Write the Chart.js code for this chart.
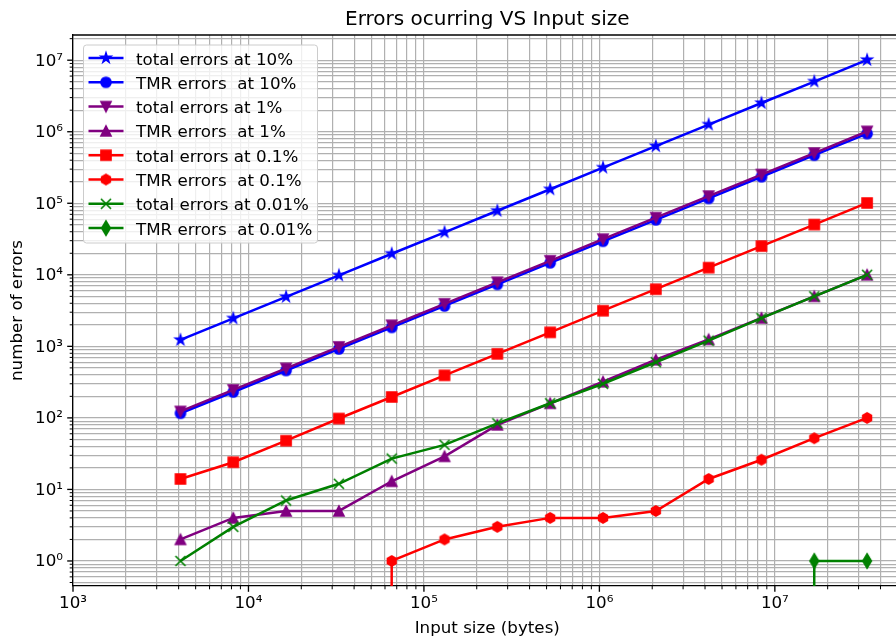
<!DOCTYPE html>
<html>
<head>
<meta charset="utf-8">
<title>Errors ocurring VS Input size</title>
<script src="https://cdn.jsdelivr.net/npm/chart.js@4.4.0/dist/chart.umd.min.js"></script>
<style>
  html, body { margin: 0; padding: 0; overflow: hidden; background: #fff; }
  canvas { display: block; }
</style>
</head>
<body>
<canvas id="errorsChart" width="910" height="639"></canvas>
<script>
// Input sizes in bytes, 4 KiB up to 32 MiB
const inputSizes = [4096, 8192, 16384, 32768, 65536, 131072, 262144, 524288, 1048576, 2097152, 4194304, 8388608, 16777216, 33554432];

// Error counts per input size
const totalErrors10 = [1230, 2460, 4920, 9830, 19700, 39300, 78600, 157000, 315000, 629000, 1260000, 2520000, 5030000, 10100000];
const tmrErrors10 = [116, 230, 460, 920, 1840, 3670, 7340, 14700, 29400, 58700, 117000, 235000, 470000, 940000];
const totalErrors1 = [123, 246, 492, 983, 1970, 3930, 7860, 15700, 31500, 62900, 126000, 252000, 503000, 1010000];
const tmrErrors1 = [2, 4, 5, 5, 13, 29, 80, 160, 320, 650, 1250, 2500, 5000, 10000];
const totalErrors01 = [14, 24, 48, 98, 196, 393, 786, 1570, 3150, 6290, 12600, 25200, 50300, 101000];
const tmrErrors01 = [0, 0, 0, 0, 1, 2, 3, 4, 4, 5, 14, 26, 52, 100];
const totalErrors001 = [1, 3, 7, 12, 27, 42, 84, 160, 300, 600, 1200, 2480, 5000, 10000];
const tmrErrors001 = [0, 0, 0, 0, 0, 0, 0, 0, 0, 0, 0, 0, 1, 1];

const seriesValues = [totalErrors10, tmrErrors10, totalErrors1, tmrErrors1, totalErrors01, tmrErrors01, totalErrors001, tmrErrors001];
const seriesLabels = ['total errors at 10%', 'TMR errors  at 10%', 'total errors at 1%', 'TMR errors  at 1%',
  'total errors at 0.1%', 'TMR errors  at 0.1%', 'total errors at 0.01%', 'TMR errors  at 0.01%'];
const seriesColors = ['#0000ff', '#0000ff', '#800080', '#800080', '#ff0000', '#ff0000', '#008000', '#008000'];
const seriesMarkers = ['star', 'circle', 'triangleDown', 'triangleUp', 'square', 'hexagon', 'x', 'thinDiamond'];

// Axis decades and their labels
const xDecades = [1e3, 1e4, 1e5, 1e6, 1e7];
const xTickLabels = ['10³', '10⁴', '10⁵', '10⁶', '10⁷'];
const yDecades = [1, 1e1, 1e2, 1e3, 1e4, 1e5, 1e6, 1e7];
const yTickLabels = ['10⁰', '10¹', '10²', '10³', '10⁴', '10⁵', '10⁶', '10⁷'];

const FONT = 'DejaVu Sans';
const FONT_SIZE = 16.7;

// Small canvases used as point styles (filled markers with a thin edge)
function markerCanvas(shape, color) {
    const c = document.createElement('canvas');
    c.width = 28;
    c.height = 28;
    const g = c.getContext('2d');
    g.translate(14, 14);
    const s = 5;
    g.fillStyle = color;
    g.strokeStyle = color;
    g.lineWidth = 1.67;
    g.lineJoin = 'miter';
    g.beginPath();
    const poly = pts => pts.forEach(([px, py], i) => (i ? g.lineTo(px, py) : g.moveTo(px, py)));
    switch (shape) {
        case 'circle':
            g.arc(0, 0, s, 0, Math.PI * 2);
            break;
        case 'square':
            g.rect(-s, -s, 2 * s, 2 * s);
            break;
        case 'triangleUp':
            poly([[0, -s], [s, s], [-s, s]]);
            break;
        case 'triangleDown':
            poly([[0, s], [s, -s], [-s, -s]]);
            break;
        case 'star': {
            const pts = [];
            for (let i = 0; i < 10; i++) {
                const r = i % 2 ? s * 0.381966 : s;
                const a = -Math.PI / 2 + i * Math.PI / 5;
                pts.push([r * Math.cos(a), r * Math.sin(a)]);
            }
            poly(pts);
            break;
        }
        case 'hexagon': {
            const pts = [];
            for (let i = 0; i < 6; i++) {
                const a = -Math.PI / 2 + i * Math.PI / 3;
                pts.push([s * Math.cos(a), s * Math.sin(a)]);
            }
            poly(pts);
            break;
        }
        case 'thinDiamond':
            poly([[0, -7.07], [4.24, 0], [0, 7.07], [-4.24, 0]]);
            break;
        case 'x':
            g.moveTo(-s, -s); g.lineTo(s, s);
            g.moveTo(-s, s); g.lineTo(s, -s);
            break;
    }
    if (shape !== 'x') {
        g.closePath();
        g.fill();
    }
    g.stroke();
    return c;
}

const markerImages = seriesMarkers.map((m, i) => markerCanvas(m, seriesColors[i]));

// Zero counts cannot sit on a log axis: push them far below the plot so the
// segment leading up to the first non-zero value drops straight out of view
const onLogAxis = v => (v > 0 ? v : 1e-300);

// 1..9 x 10^n ticks inside [min, max]
function logTicks(decades, min, max) {
    const ticks = [];
    decades.forEach(d => {
        for (let m = 1; m < 10; m++) {
            const v = d * m;
            if (v >= min && v <= max) ticks.push({ value: v, major: m === 1 });
        }
    });
    return ticks;
}

const datasets = seriesValues.map((values, i) => ({
    label: seriesLabels[i],
    data: values.map((v, j) => ({ x: inputSizes[j], y: onLogAxis(v) })),
    borderColor: seriesColors[i],
    backgroundColor: seriesColors[i],
    borderWidth: 2.5,
    pointStyle: markerImages[i],
    pointRadius: 6,
    pointHoverRadius: 6,
    tension: 0,
    fill: false,
    order: seriesValues.length - i // later series drawn on top
}));

// Ticks, top spine and title
const frameDecor = {
    id: 'frameDecor',
    afterDraw(chart) {
        const { ctx, chartArea } = chart;
        const xs = chart.scales.x;
        const ys = chart.scales.y;
        ctx.save();
        ctx.strokeStyle = '#000';
        xs.ticks.forEach(t => {
            const px = xs.getPixelForValue(t.value);
            if (px > chartArea.right - 1) return;
            ctx.lineWidth = t.major ? 1.33 : 1;
            ctx.beginPath();
            ctx.moveTo(px, chartArea.bottom);
            ctx.lineTo(px, chartArea.bottom + (t.major ? 5.8 : 3.3));
            ctx.stroke();
        });
        ys.ticks.forEach(t => {
            const py = ys.getPixelForValue(t.value);
            ctx.lineWidth = t.major ? 1.33 : 1;
            ctx.beginPath();
            ctx.moveTo(chartArea.left, py);
            ctx.lineTo(chartArea.left - (t.major ? 5.8 : 3.3), py);
            ctx.stroke();
        });
        ctx.lineWidth = 1.33;
        ctx.beginPath();
        ctx.moveTo(chartArea.left, chartArea.top);
        ctx.lineTo(chartArea.right, chartArea.top);
        ctx.stroke();

        ctx.fillStyle = '#000';
        ctx.font = '20px "' + FONT + '"';
        ctx.textAlign = 'center';
        ctx.textBaseline = 'alphabetic';
        ctx.fillText('Errors ocurring VS Input size', (chartArea.left + chartArea.right) / 2, 25);
        ctx.restore();
    }
};

// Legend box in the upper left corner of the plot
const innerLegend = {
    id: 'innerLegend',
    afterDraw(chart) {
        const { ctx, chartArea } = chart;
        const left = chartArea.left + 10;
        const top = chartArea.top + 9.5;
        ctx.save();
        ctx.beginPath();
        ctx.roundRect(left + 0.5, top + 0.5, 234, 198, 3);
        ctx.fillStyle = 'rgba(255,255,255,0.8)';
        ctx.fill();
        ctx.strokeStyle = '#cccccc';
        ctx.lineWidth = 1;
        ctx.stroke();
        ctx.font = FONT_SIZE + 'px "' + FONT + '"';
        ctx.textAlign = 'left';
        ctx.textBaseline = 'alphabetic';
        seriesLabels.forEach((label, i) => {
            const cy = top + 13.5 + i * 24.3;
            ctx.strokeStyle = seriesColors[i];
            ctx.lineWidth = 2.5;
            ctx.beginPath();
            ctx.moveTo(left + 5.5, cy);
            ctx.lineTo(left + 40.5, cy);
            ctx.stroke();
            const img = markerImages[i];
            ctx.drawImage(img, left + 23 - img.width / 2, cy - img.height / 2);
            ctx.fillStyle = '#000';
            ctx.fillText(label, left + 53, cy + 6.5);
        });
        ctx.restore();
    }
};

const ctx = document.getElementById('errorsChart').getContext('2d');
const errorsChart = new Chart(ctx, {
    type: 'line',
    data: { datasets: datasets },
    plugins: [frameDecor, innerLegend],
    options: {
        responsive: false,
        animation: false,
        events: [],
        layout: { padding: { top: 35, right: 6, left: 0, bottom: 0 } },
        plugins: {
            legend: { display: false },
            tooltip: { enabled: false },
            title: { display: false }
        },
        scales: {
            x: {
                type: 'logarithmic',
                min: 1000,
                max: 5.27e7,
                afterBuildTicks: scale => { scale.ticks = logTicks(xDecades, scale.min, scale.max); },
                afterFit: scale => { scale.height = 53; },
                grid: { color: '#b0b0b0', lineWidth: 1.2, drawTicks: false },
                border: { display: true, color: '#000', width: 1.33 },
                ticks: {
                    autoSkip: false,
                    maxRotation: 0,
                    padding: 8,
                    color: '#000',
                    font: { family: FONT, size: FONT_SIZE },
                    callback: value => {
                        const i = xDecades.indexOf(value);
                        return i >= 0 ? xTickLabels[i] : '';
                    }
                },
                title: {
                    display: true,
                    text: 'Input size (bytes)',
                    color: '#000',
                    font: { family: FONT, size: FONT_SIZE },
                    padding: { top: 0, bottom: 0 }
                }
            },
            y: {
                type: 'logarithmic',
                min: 0.4467,
                max: 2.25e7,
                afterBuildTicks: scale => { scale.ticks = logTicks([0.1].concat(yDecades), scale.min, scale.max); },
                afterFit: scale => { scale.width = 73; },
                grid: { color: '#b0b0b0', lineWidth: 1.2, drawTicks: false },
                border: { display: true, color: '#000', width: 1.33 },
                ticks: {
                    autoSkip: false,
                    padding: 10,
                    labelOffset: 1,
                    color: '#000',
                    font: { family: FONT, size: FONT_SIZE },
                    callback: value => {
                        const i = yDecades.indexOf(value);
                        return i >= 0 ? yTickLabels[i] : '';
                    }
                },
                title: {
                    display: true,
                    text: 'number of errors',
                    color: '#000',
                    font: { family: FONT, size: FONT_SIZE },
                    padding: { top: 8, bottom: 0 }
                }
            }
        }
    }
});
</script>
</body>
</html>
